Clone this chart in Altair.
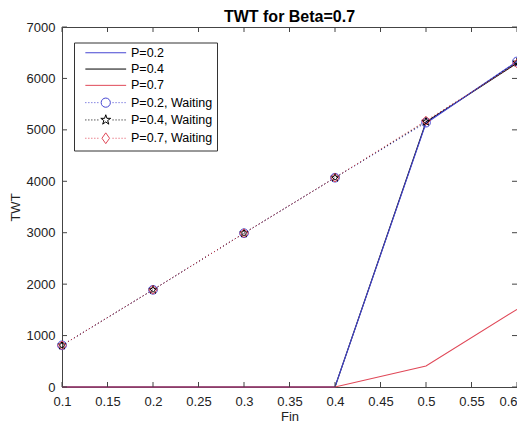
import math
import altair as alt
import pandas as pd

# ---- data ----
fin = [0.1, 0.2, 0.3, 0.4, 0.5, 0.6]
twt_p02 = [0, 0, 0, 0, 5130, 6330]
twt_p04 = [0, 0, 0, 0, 5150, 6300]
twt_p07 = [0, 0, 0, 0, 410, 1510]
wait_p02 = [810, 1890, 2990, 4070, 5140, 6330]
wait_p04 = [810, 1890, 2990, 4070, 5160, 6310]
wait_p07 = [810, 1890, 2990, 4070, 5180, 6290]

series_names = ["P=0.2", "P=0.4", "P=0.7",
                "P=0.2, Waiting", "P=0.4, Waiting", "P=0.7, Waiting"]
series_colors = ["#4646d2", "#000000", "#e04858",
                 "#4646d2", "#000000", "#e04858"]
x_ticks = [0.1, 0.15, 0.2, 0.25, 0.3, 0.35, 0.4, 0.45, 0.5, 0.55, 0.6]
y_ticks = [0, 1000, 2000, 3000, 4000, 5000, 6000, 7000]

W, H = 455, 360
FONT = "Liberation Sans"
FRAME = "#444444"


def frame(name, values):
    return pd.DataFrame({"fin": fin, "twt": values, "series": name})


# ---- marker paths ----
def star_path(r_out=1.0, r_in=0.382):
    pts = []
    for i in range(10):
        r = r_out if i % 2 == 0 else r_in
        a = -math.pi / 2 + i * math.pi / 5
        pts.append((r * math.cos(a), r * math.sin(a)))
    return "M" + "L".join(f"{x:.3f},{y:.3f}" for x, y in pts) + "Z"


def dots(a, b, step=0.75, ln=0.25):
    s = ""
    x = a
    while x < b - 1e-9:
        s += f"M{x:.3f},0h{ln}"
        x += step
    return s


STAR = star_path()
solid_sym = "M-5.1,0H5.1"
dotted = dots(-5.1, -1.6) + dots(1.7, 5.15)
circle_sym = dotted + "M1.15,0A1.15,1.15 0 1 1 -1.15,0A1.15,1.15 0 1 1 1.15,0"
star_sym = dotted + star_path(1.3, 0.5)
diamond_sym = dotted + "M0,-1.35L0.95,0L0,1.35L-0.95,0Z"
sym_paths = [solid_sym, solid_sym, solid_sym, circle_sym, star_sym, diamond_sym]

color_scale = alt.Scale(domain=series_names, range=series_colors)
shape_scale = alt.Scale(domain=series_names, range=sym_paths)
legend = alt.Legend(
    title=None, orient="none", legendX=12, legendY=15.5,
    symbolSize=64, symbolStrokeWidth=1, symbolOffset=21.5, labelOffset=19,
    symbolOpacity=1, symbolFillColor="transparent",
    labelFont=FONT, labelFontSize=12.5, labelColor="black",
    rowPadding=3.3, padding=4, strokeColor="#333333", fillColor="white",
)

xs = alt.Scale(domain=[0.1, 0.6], nice=False, zero=False)
ys = alt.Scale(domain=[0, 7000], nice=False)
x_enc = alt.X("fin:Q", scale=xs, axis=alt.Axis(
    title="Fin", values=x_ticks, format="~g", labelPadding=8,
    labelAlign={"condition": {"test": "datum.value >= 0.59", "value": "right"},
                "value": "center"},
    titlePadding=2, grid=False, domain=False, ticks=False))
y_enc = alt.Y("twt:Q", scale=ys, axis=alt.Axis(
    title="TWT", values=y_ticks, format="d", labelPadding=7,
    titlePadding=4, grid=False, domain=False, ticks=False))
col = alt.Color("series:N", scale=color_scale, legend=legend)

layers = []
# legend-only layer (invisible marks, drives the merged colour/shape legend)
leg_df = pd.DataFrame({"series": series_names})
layers.append(alt.Chart(leg_df).mark_point(filled=False, opacity=0, strokeWidth=1).encode(
    x=alt.value(0), y=alt.value(0), color=col,
    shape=alt.Shape("series:N", scale=shape_scale, legend=legend)))
# solid lines (black first, then blue, red on top)
for name, vals in [("P=0.4", twt_p04), ("P=0.2", twt_p02), ("P=0.7", twt_p07)]:
    layers.append(alt.Chart(frame(name, vals)).mark_line(strokeWidth=1.1).encode(
        x=x_enc, y=y_enc, color=col))
# dotted waiting lines + markers
markers = {"P=0.2, Waiting": ("circle", wait_p02),
           "P=0.4, Waiting": (STAR, wait_p04),
           "P=0.7, Waiting": ("diamond", wait_p07)}
for name, (shp, vals) in markers.items():
    d = frame(name, vals)
    layers.append(alt.Chart(d).mark_line(strokeWidth=1, strokeDash=[1, 2.5]).encode(
        x=x_enc, y=y_enc, color=col))
for name, (shp, vals) in markers.items():
    d = frame(name, vals)
    layers.append(alt.Chart(d).mark_point(filled=False, strokeWidth=1, size=75,
                                          opacity=1, shape=shp).encode(
        x=x_enc, y=y_enc, color=col))

# inward ticks on all four sides
xt = pd.DataFrame({"fin": x_ticks})
yt = pd.DataFrame({"twt": y_ticks})
layers.append(alt.Chart(xt).mark_rule(color=FRAME, strokeWidth=1).encode(
    x="fin:Q", y=alt.value(H), y2=alt.value(H - 5)))
layers.append(alt.Chart(xt).mark_rule(color=FRAME, strokeWidth=1).encode(
    x="fin:Q", y=alt.value(0), y2=alt.value(5)))
layers.append(alt.Chart(yt).mark_rule(color=FRAME, strokeWidth=1).encode(
    y="twt:Q", x=alt.value(0), x2=alt.value(5)))
layers.append(alt.Chart(yt).mark_rule(color=FRAME, strokeWidth=1).encode(
    y="twt:Q", x=alt.value(W), x2=alt.value(W - 5)))

chart = alt.layer(*layers).properties(
    width=W, height=H,
    title=alt.TitleParams("TWT for Beta=0.7", font=FONT, fontSize=16,
                          fontWeight="bold", color="black", anchor="middle",
                          offset=0, dy=3.5),
    autosize=alt.AutoSizeParams(type="none"),
    padding={"left": 54, "top": 19, "right": 0, "bottom": 36},
).configure_view(stroke=FRAME, strokeWidth=1).configure_axis(
    labelFont=FONT, labelFontSize=13, labelColor="#222222",
    titleFont=FONT, titleFontSize=13, titleColor="#222222", titleFontWeight="normal",
)

chart.save("out.html", embed_options={"renderer": "svg", "actions": False})
